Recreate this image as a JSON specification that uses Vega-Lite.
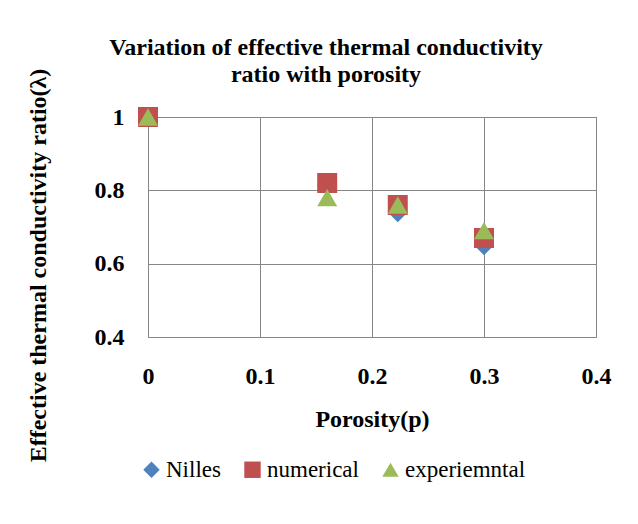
{
  "$schema": "https://vega.github.io/schema/vega-lite/v6.json",
  "width": 448,
  "height": 220,
  "autosize": {"type": "none"},
  "padding": {"left": 148, "top": 117, "right": 42, "bottom": 187},
  "background": "white",
  "title": {
    "text": ["Variation of effective thermal conductivity", "ratio with porosity"],
    "font": "Liberation Serif",
    "fontSize": 24,
    "fontWeight": "bold",
    "color": "black",
    "anchor": "middle",
    "dx": -46,
    "lineHeight": 27,
    "offset": -19
  },
  "config": {
    "font": "Liberation Serif",
    "view": {"stroke": "#868686", "strokeWidth": 1},
    "axis": {
      "labelFont": "Liberation Serif",
      "labelFontSize": 24,
      "labelFontWeight": "bold",
      "labelColor": "black",
      "titleFont": "Liberation Serif",
      "titleFontSize": 24,
      "titleFontWeight": "bold",
      "titleColor": "black",
      "gridColor": "#868686",
      "gridWidth": 1,
      "gridOpacity": 1,
      "domain": false,
      "ticks": false,
      "labelFlush": false
    },
    "legend": {"labelFont": "Liberation Serif"}
  },
  "data": {
    "values": [
      {"p": 0, "ratio": 1.0, "series": "Nilles"},
      {"p": 0.16, "ratio": 0.815, "series": "Nilles"},
      {"p": 0.223, "ratio": 0.74, "series": "Nilles"},
      {"p": 0.3, "ratio": 0.65, "series": "Nilles"},
      {"p": 0, "ratio": 1.0, "series": "numerical"},
      {"p": 0.16, "ratio": 0.82, "series": "numerical"},
      {"p": 0.223, "ratio": 0.76, "series": "numerical"},
      {"p": 0.3, "ratio": 0.67, "series": "numerical"},
      {"p": 0, "ratio": 1.0, "series": "experiemntal"},
      {"p": 0.16, "ratio": 0.78, "series": "experiemntal"},
      {"p": 0.223, "ratio": 0.76, "series": "experiemntal"},
      {"p": 0.3, "ratio": 0.69, "series": "experiemntal"}
    ]
  },
  "mark": {"type": "point", "filled": true, "opacity": 1, "size": 400},
  "encoding": {
    "x": {
      "field": "p",
      "type": "quantitative",
      "scale": {"domain": [0, 0.4], "nice": false, "zero": false},
      "axis": {
        "values": [0, 0.1, 0.2, 0.3, 0.4],
        "format": "~g",
        "labelBaseline": "alphabetic",
        "labelPadding": 46,
        "labelFlush": false,
        "title": "Porosity(p)",
        "titleY": 89,
        "titleBaseline": "alphabetic"
      }
    },
    "y": {
      "field": "ratio",
      "type": "quantitative",
      "scale": {"domain": [0.4, 1], "nice": false, "zero": false},
      "axis": {
        "values": [0.4, 0.6, 0.8, 1],
        "format": "~g",
        "labelPadding": 24,
        "title": "Effective thermal conductivity ratio(λ)",
        "titleX": -110,
        "titleY": 148,
        "titleAngle": -90,
        "titleBaseline": "middle"
      }
    },
    "color": {
      "field": "series",
      "type": "nominal",
      "scale": {"domain": ["Nilles", "numerical", "experiemntal"], "range": ["#4F81BD", "#C0504D", "#9BBB59"]},
      "legend": {
        "title": null,
        "orient": "none",
        "direction": "horizontal",
        "legendX": -8,
        "legendY": 341,
        "labelFont": "Liberation Serif",
        "labelFontSize": 23,
        "labelColor": "black",
        "symbolSize": 270,
        "symbolOpacity": 1,
        "labelOffset": 3,
        "columnPadding": 20
      }
    },
    "shape": {
      "field": "series",
      "type": "nominal",
      "scale": {"domain": ["Nilles", "numerical", "experiemntal"], "range": ["diamond", "square", "triangle-up"]},
      "legend": null
    }
  }
}
